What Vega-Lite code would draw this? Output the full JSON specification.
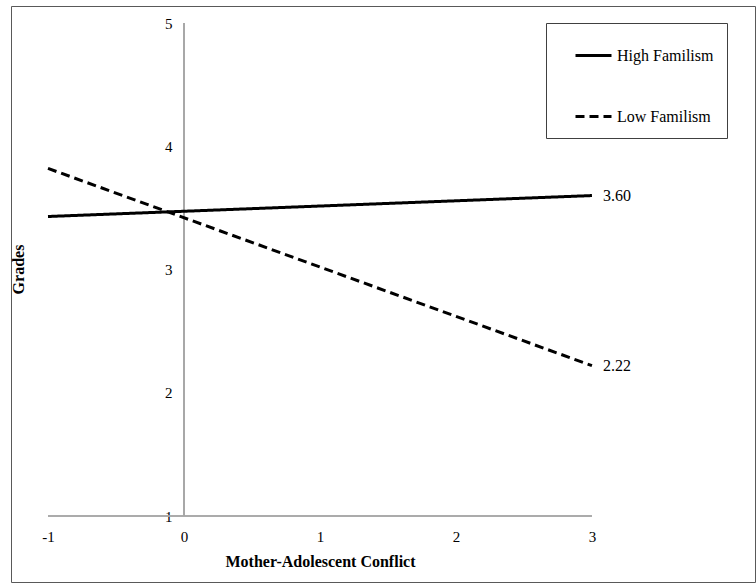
{
  "$schema": "https://vega.github.io/schema/vega-lite/v6.json",
  "width": 744,
  "height": 576,
  "autosize": "none",
  "padding": {"left": 11, "top": 6, "right": 1, "bottom": 1},
  "background": "white",
  "config": {
    "view": {"stroke": "#595959", "strokeWidth": 1},
    "font": "Liberation Serif",
    "axis": {"labelFont": "Liberation Serif", "titleFont": "Liberation Serif", "labelColor": "black", "titleColor": "black"},
    "legend": {"labelFont": "Liberation Serif"}
  },
  "data": {
    "values": [
      {"conflict": -1, "grades": 3.43, "group": "High Familism"},
      {"conflict": 3, "grades": 3.60, "group": "High Familism"},
      {"conflict": -1, "grades": 3.82, "group": "Low Familism"},
      {"conflict": 3, "grades": 2.22, "group": "Low Familism"}
    ]
  },
  "layer": [
    {
      "mark": {"type": "rule", "color": "#a6a6a6", "strokeWidth": 1.2},
      "encoding": {
        "y": {"datum": 1, "type": "quantitative", "scale": {"domain": [0.4645, 5.138], "nice": false, "zero": false}},
        "x": {"datum": -1, "type": "quantitative", "scale": {"domain": [-1.272, 4.199], "nice": false, "zero": false}},
        "x2": {"datum": 3}
      }
    },
    {
      "mark": {"type": "rule", "color": "#a6a6a6", "strokeWidth": 1.2},
      "encoding": {
        "x": {"datum": 0, "type": "quantitative"},
        "y": {"datum": 1, "type": "quantitative"},
        "y2": {"datum": 5}
      }
    },
    {
      "mark": {"type": "line", "color": "black", "strokeWidth": 3},
      "encoding": {
        "x": {
          "field": "conflict",
          "type": "quantitative",
          "scale": {"domain": [-1.272, 4.199], "nice": false, "zero": false},
          "axis": {
            "values": [-1, 0, 1, 2, 3],
            "labelExpr": "'' + datum.value",
            "domain": false,
            "ticks": false,
            "grid": false,
            "offset": -66,
            "labelPadding": 13,
            "labelFontSize": 15,
            "title": "Mother-Adolescent Conflict",
            "titleFontSize": 16,
            "titleFontWeight": "bold",
            "titleX": 309,
            "titleY": 50,
            "titleBaseline": "alphabetic",
            "titleAlign": "center"
          }
        },
        "y": {
          "field": "grades",
          "type": "quantitative",
          "scale": {"domain": [0.4645, 5.138], "nice": false, "zero": false},
          "axis": {
            "values": [1, 2, 3, 4, 5],
            "labelExpr": "'' + datum.value",
            "domain": false,
            "ticks": false,
            "grid": false,
            "offset": -173,
            "labelPadding": 12,
            "labelFontSize": 15,
            "title": "Grades",
            "titleFontSize": 16,
            "titleFontWeight": "bold",
            "titleAngle": -90,
            "titleX": -166,
            "titleY": 263,
            "titleAlign": "center",
            "titleBaseline": "middle"
          }
        },
        "strokeDash": {
          "field": "group",
          "type": "nominal",
          "scale": {"domain": ["High Familism", "Low Familism"], "range": [[1, 0], [9, 5]]},
          "legend": {
            "title": null,
            "orient": "none",
            "legendX": 535,
            "legendY": 17,
            "strokeColor": "#404040",
            "fillColor": "white",
            "padding": 13,
            "symbolOffset": 15,
            "symbolType": "stroke",
            "symbolSize": 1296,
            "symbolStrokeWidth": 3,
            "symbolStrokeColor": "black",
            "labelFontSize": 16,
            "labelColor": "black",
            "labelOffset": 4,
            "rowPadding": 33
          }
        }
      }
    },
    {
      "transform": [{"filter": "datum.conflict == 3"}],
      "mark": {"type": "text", "align": "left", "baseline": "middle", "dx": 11, "fontSize": 16, "font": "Liberation Serif", "color": "black"},
      "encoding": {
        "x": {"field": "conflict", "type": "quantitative"},
        "y": {"field": "grades", "type": "quantitative"},
        "text": {"field": "grades", "type": "quantitative", "format": ".2f"}
      }
    }
  ]
}
